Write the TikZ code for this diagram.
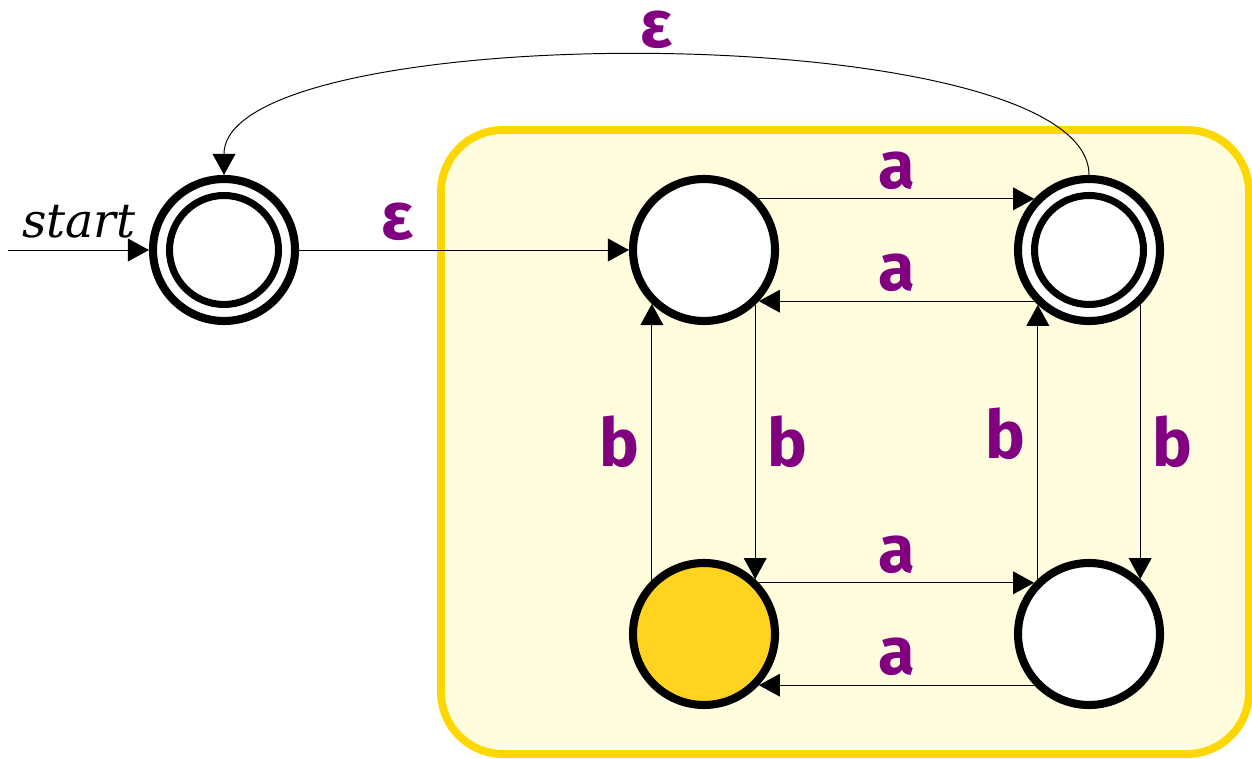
\documentclass[tikz,border=0pt]{standalone}
\usepackage{fontspec}
\usepackage{xcolor}
\usepackage{tikz}
\usetikzlibrary{arrows.meta, positioning}
\newfontfamily\lblfont{Fira Sans}
\newfontfamily\startfont{DejaVu Serif}
\definecolor{lblpurple}{RGB}{128,0,128}
\definecolor{boxfill}{RGB}{255,253,222}
\definecolor{boxline}{RGB}{255,215,0}
\definecolor{hotfill}{RGB}{255,211,32}

\begin{document}
\begin{tikzpicture}[
    st/.style={circle, draw=black, fill=white, line width=4.6pt, minimum size=2.84cm, inner sep=0pt},
    acc/.style={st, path picture={\draw[line width=4pt] (path picture bounding box.center) circle (1.09cm);}},
    ed/.style={line width=0.55pt, -{Triangle[length=12pt, width=13pt]}},
    lbl/.style={font=\lblfont\bfseries\fontsize{38}{40}\selectfont, text=lblpurple, inner sep=5pt}]
    \useasboundingbox (0,0) rectangle (25.04,15.16);
    \draw[boxline, fill=boxfill, line width=4.5pt, rounded corners=1.24cm] (8.82,0.08) rectangle (24.98,12.56);
    \node[acc] (Q0) at (4.48,10.16) {};
    \node[st] (Q1) at (14.08,10.16) {};
    \node[acc] (Q2) at (21.78,10.16) {};
    \node[st, fill=hotfill] (Q3) at (14.08,2.48) {};
    \node[st] (Q4) at (21.78,2.48) {};
    \coordinate (S) at (0.16,10.16);
    \draw[ed] (S) -- (Q0);
    \node[font=\startfont\itshape\fontsize{27}{29}\selectfont] (startlbl) at (1.58,10.72) {start};
    \draw[ed] (Q0) -- node[lbl, pos=0.3, anchor=south] (e1) {ε} (Q1);
    \draw[ed] (Q2.north) to[out=90, in=90, looseness=0.47] node[lbl, anchor=south, inner sep=4pt] (e2) {ε} (Q0.north);
    \foreach \i/\j [count=\k] in {Q1.43/Q2.137, Q2.223/Q1.317, Q3.43/Q4.137, Q4.223/Q3.317} {
        \draw[ed] (\i) -- node[lbl, anchor=south] (la\k) {a} (\j);
    }
    \foreach \i/\j/\a/\y [count=\k] in {Q3.134/Q1.226/east/0, Q1.313/Q3.47/west/0, Q4.133/Q2.227/east/0.16, Q2.313/Q4.47/west/0} {
        \draw[ed] (\i) -- node[lbl, anchor=\a, inner sep=7pt, yshift=\y cm] (lb\k) {b} (\j);
    }
\end{tikzpicture}
\end{document}
